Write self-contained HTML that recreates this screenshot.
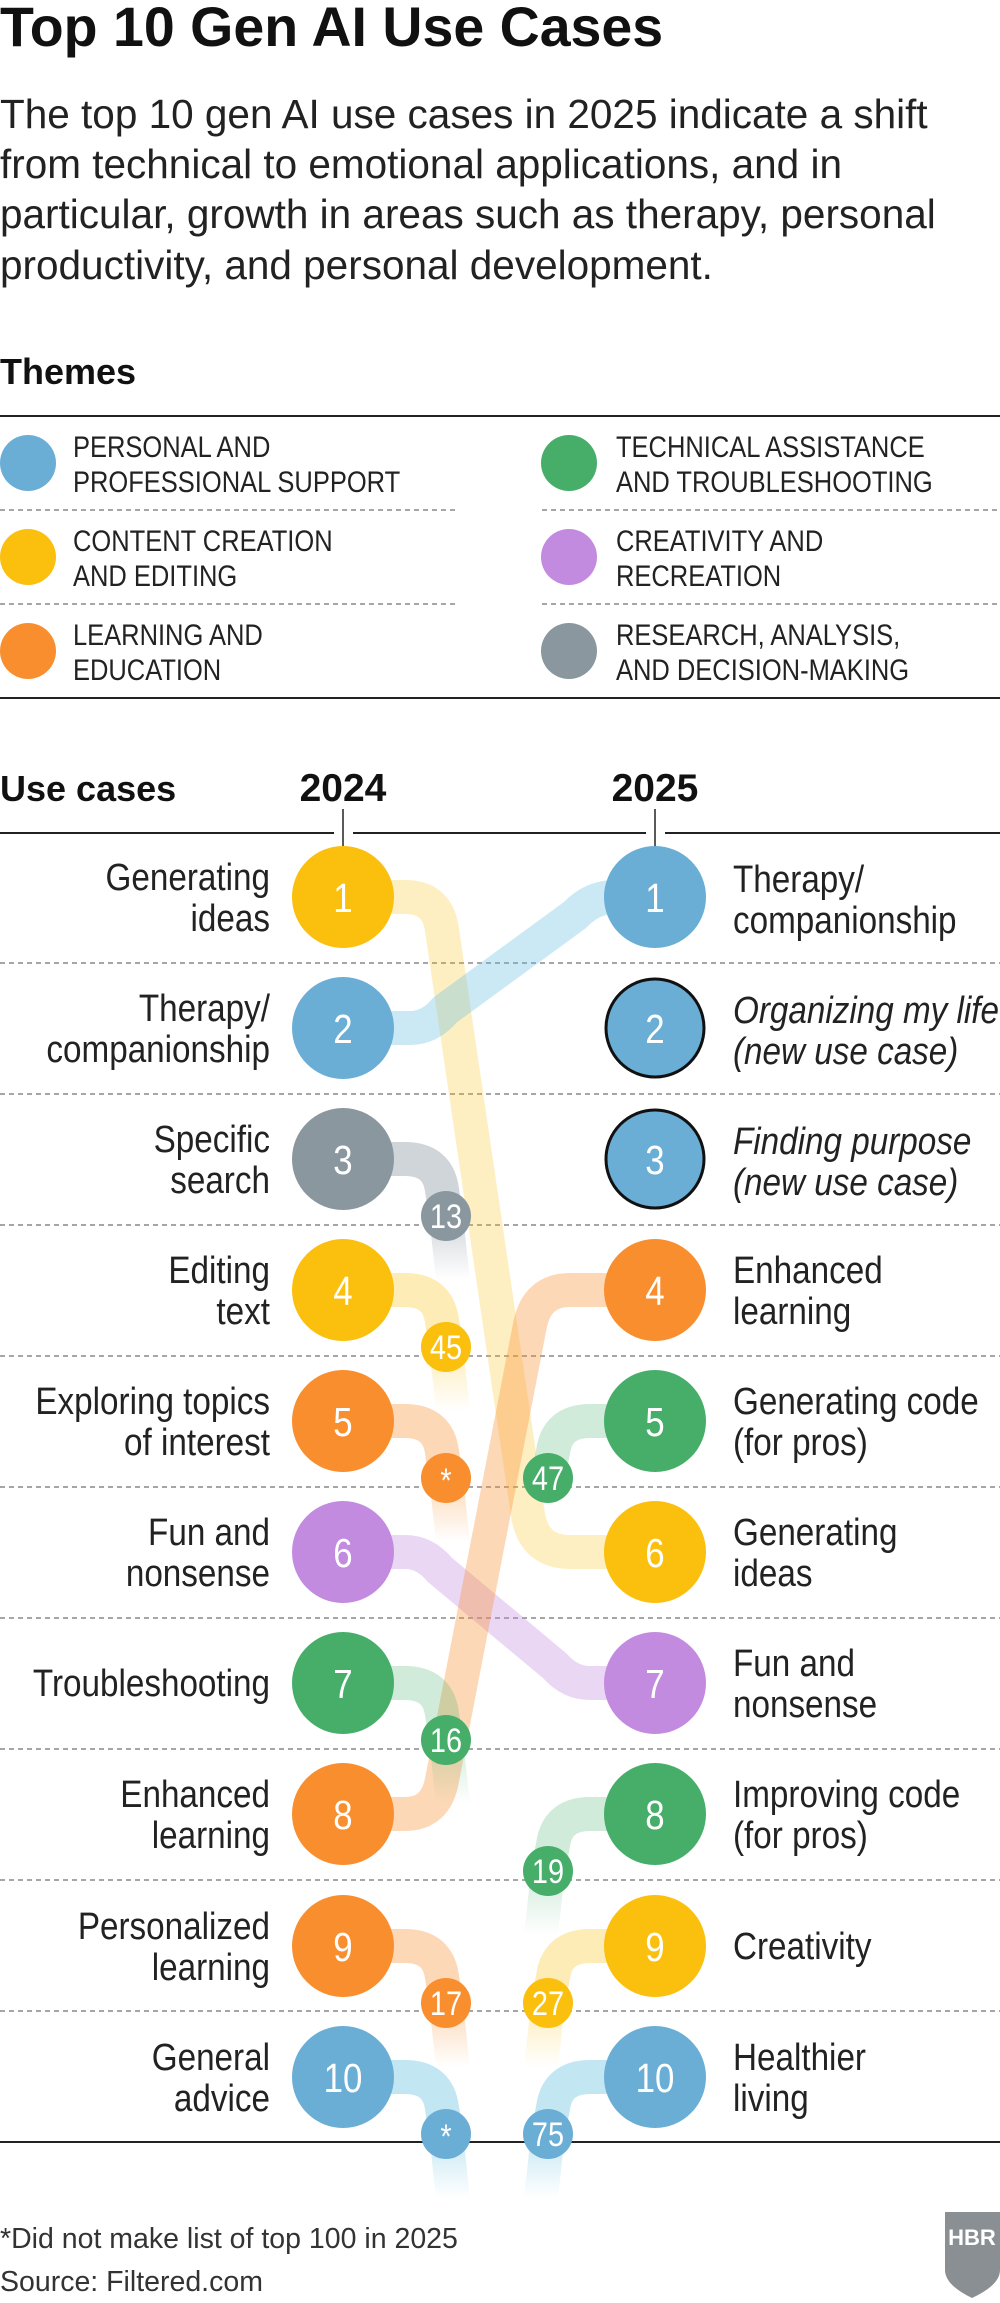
<!DOCTYPE html>
<html><head><meta charset="utf-8"><style>
html,body{margin:0;padding:0;background:#fff;}
svg{display:block;}
.s{font-family:"Liberation Sans",sans-serif;}
.n{font-family:"Liberation Sans",sans-serif;}
.cl{transform-box:fill-box;transform-origin:left center;transform:scaleX(0.875);}
.cr{transform-box:fill-box;transform-origin:right center;transform:scaleX(0.875);}
.cc{transform-box:fill-box;transform-origin:center center;transform:scaleX(0.85);}
.lg{transform-box:fill-box;transform-origin:left center;transform:scaleX(0.85);}
</style></head><body>
<svg width="1000" height="2303" viewBox="0 0 1000 2303" xmlns="http://www.w3.org/2000/svg">
<defs>
<linearGradient id="gGray" x1="0" y1="0" x2="0" y2="1"><stop offset="0" stop-color="#8A979F" stop-opacity="0.4"/><stop offset="1" stop-color="#8A979F" stop-opacity="0"/></linearGradient>
<linearGradient id="gYel" x1="0" y1="0" x2="0" y2="1"><stop offset="0" stop-color="#FBBF0E" stop-opacity="0.3"/><stop offset="1" stop-color="#FBBF0E" stop-opacity="0"/></linearGradient>
<linearGradient id="gOr" x1="0" y1="0" x2="0" y2="1"><stop offset="0" stop-color="#F98E2E" stop-opacity="0.35"/><stop offset="1" stop-color="#F98E2E" stop-opacity="0"/></linearGradient>
<linearGradient id="gGr" x1="0" y1="0" x2="0" y2="1"><stop offset="0" stop-color="#47AE6A" stop-opacity="0.25"/><stop offset="1" stop-color="#47AE6A" stop-opacity="0"/></linearGradient>
<linearGradient id="gBl" x1="0" y1="0" x2="0" y2="1"><stop offset="0" stop-color="#6AC0E0" stop-opacity="0.4"/><stop offset="1" stop-color="#6AC0E0" stop-opacity="0"/></linearGradient>
</defs>

<text x="0" y="46" class="s" font-size="55.5" font-weight="bold" fill="#111">Top 10 Gen AI Use Cases</text>
<g class="s" font-size="40.5" fill="#222">
<text x="0" y="128">The top 10 gen AI use cases in 2025 indicate a shift</text>
<text x="0" y="178">from technical to emotional applications, and in</text>
<text x="0" y="228">particular, growth in areas such as therapy, personal</text>
<text x="0" y="279">productivity, and personal development.</text>
</g>
<text x="0" y="384" class="s" font-size="36" font-weight="bold" fill="#111">Themes</text>
<line x1="0" y1="416" x2="1000" y2="416" stroke="#222" stroke-width="2"/>
<g stroke="#888" stroke-width="1.5" stroke-dasharray="5,4">
<line x1="0" y1="510" x2="457" y2="510"/><line x1="0" y1="604" x2="457" y2="604"/>
<line x1="542" y1="510" x2="1000" y2="510"/><line x1="542" y1="604" x2="1000" y2="604"/>
</g>
<line x1="0" y1="698" x2="1000" y2="698" stroke="#222" stroke-width="2"/>
<circle cx="28" cy="463" r="28" fill="#6AAED6"/>
<circle cx="28" cy="557" r="28" fill="#FBBF0E"/>
<circle cx="28" cy="651" r="28" fill="#F98E2E"/>
<circle cx="569" cy="463" r="28" fill="#47AE6A"/>
<circle cx="569" cy="557" r="28" fill="#C38BDF"/>
<circle cx="569" cy="651" r="28" fill="#8A979F"/>
<g class="n" font-size="30" fill="#222">
<text class="lg" x="73" y="457">PERSONAL AND</text><text class="lg" x="73" y="492">PROFESSIONAL SUPPORT</text>
<text class="lg" x="73" y="551">CONTENT CREATION</text><text class="lg" x="73" y="586">AND EDITING</text>
<text class="lg" x="73" y="645">LEARNING AND</text><text class="lg" x="73" y="680">EDUCATION</text>
<text class="lg" x="616" y="457">TECHNICAL ASSISTANCE</text><text class="lg" x="616" y="492">AND TROUBLESHOOTING</text>
<text class="lg" x="616" y="551">CREATIVITY AND</text><text class="lg" x="616" y="586">RECREATION</text>
<text class="lg" x="616" y="645">RESEARCH, ANALYSIS,</text><text class="lg" x="616" y="680">AND DECISION-MAKING</text>
</g>

<text x="0" y="801" class="s" font-size="36" font-weight="bold" fill="#111">Use cases</text>
<text x="343" y="801" class="s" font-size="39" font-weight="bold" fill="#111" text-anchor="middle">2024</text>
<text x="655" y="801" class="s" font-size="39" font-weight="bold" fill="#111" text-anchor="middle">2025</text>
<g stroke="#222" stroke-width="2">
<line x1="0" y1="833" x2="334" y2="833"/><line x1="353" y1="833" x2="646" y2="833"/><line x1="665" y1="833" x2="1000" y2="833"/>
<line x1="343" y1="809" x2="343" y2="850" stroke-width="1.5"/><line x1="655" y1="809" x2="655" y2="850" stroke-width="1.5"/>
</g>
<g stroke="#888" stroke-width="1.5" stroke-dasharray="5,4">
<line x1="0" y1="963" x2="1000" y2="963"/><line x1="0" y1="1094" x2="1000" y2="1094"/>
<line x1="0" y1="1225" x2="1000" y2="1225"/><line x1="0" y1="1356" x2="1000" y2="1356"/>
<line x1="0" y1="1487" x2="1000" y2="1487"/><line x1="0" y1="1618" x2="1000" y2="1618"/>
<line x1="0" y1="1749" x2="1000" y2="1749"/><line x1="0" y1="1880" x2="1000" y2="1880"/>
<line x1="0" y1="2011" x2="1000" y2="2011"/>
</g>
<line x1="0" y1="2142" x2="1000" y2="2142" stroke="#222" stroke-width="2"/>

<g fill="none" stroke-width="34" stroke-linejoin="round">
<path d="M343,897 H405 Q438,897 442,930 L528,1515 Q534,1552 570,1552 H655" stroke="#FBBF0E" stroke-opacity="0.25"/>
<path d="M343,1028 H410 Q430,1028 445,1010 L575,915 Q592,897 615,897 H655" stroke="#6AC0E0" stroke-opacity="0.35"/>
<path d="M343,1552 H405 Q425,1552 440,1570 L555,1666 Q570,1683 590,1683 H655" stroke="#C38BDF" stroke-opacity="0.35"/>
<path d="M343,1814 H405 Q436,1814 442,1780 L530,1325 Q537,1290 570,1290 H655" stroke="#F98E2E" stroke-opacity="0.35"/>
<path d="M343,1159 H405 Q438,1159 442,1190 L446,1216" stroke="#8A979F" stroke-opacity="0.4"/>
<path d="M343,1290 H405 Q438,1290 442,1321 L446,1347" stroke="#FBBF0E" stroke-opacity="0.3"/>
<path d="M343,1421 H405 Q438,1421 442,1452 L446,1478" stroke="#F98E2E" stroke-opacity="0.35"/>
<path d="M343,1683 H405 Q438,1683 442,1714 L446,1740" stroke="#47AE6A" stroke-opacity="0.25"/>
<path d="M343,1946 H405 Q438,1946 442,1977 L446,2003" stroke="#F98E2E" stroke-opacity="0.35"/>
<path d="M343,2077 H405 Q438,2077 442,2108 L446,2134" stroke="#6AC0E0" stroke-opacity="0.4"/>
<path d="M655,1421 H590 Q557,1421 553,1452 L548,1478" stroke="#47AE6A" stroke-opacity="0.25"/>
<path d="M655,1814 H590 Q557,1814 553,1845 L548,1871" stroke="#47AE6A" stroke-opacity="0.25"/>
<path d="M655,1946 H590 Q557,1946 553,1977 L548,2003" stroke="#FBBF0E" stroke-opacity="0.3"/>
<path d="M655,2077 H590 Q557,2077 553,2108 L548,2134" stroke="#6AC0E0" stroke-opacity="0.4"/>
</g>
<g stroke="none">
<polygon points="429,1216 463,1216 470,1280 436,1280" fill="url(#gGray)"/>
<polygon points="429,1347 463,1347 470,1411 436,1411" fill="url(#gYel)"/>
<polygon points="429,1478 463,1478 470,1542 436,1542" fill="url(#gOr)"/>
<polygon points="429,1740 463,1740 470,1804 436,1804" fill="url(#gGr)"/>
<polygon points="429,2003 463,2003 470,2067 436,2067" fill="url(#gOr)"/>
<polygon points="429,2134 463,2134 470,2198 436,2198" fill="url(#gBl)"/>
<polygon points="531,1871 565,1871 558,1935 524,1935" fill="url(#gGr)"/>
<polygon points="531,2003 565,2003 558,2067 524,2067" fill="url(#gYel)"/>
<polygon points="531,2134 565,2134 558,2198 524,2198" fill="url(#gBl)"/>
</g>

<g>
<circle cx="343" cy="897" r="51" fill="#FBBF0E"/>
<circle cx="343" cy="1028" r="51" fill="#6AAED6"/>
<circle cx="343" cy="1159" r="51" fill="#8A979F"/>
<circle cx="343" cy="1290" r="51" fill="#FBBF0E"/>
<circle cx="343" cy="1421" r="51" fill="#F98E2E"/>
<circle cx="343" cy="1552" r="51" fill="#C38BDF"/>
<circle cx="343" cy="1683" r="51" fill="#47AE6A"/>
<circle cx="343" cy="1814" r="51" fill="#F98E2E"/>
<circle cx="343" cy="1946" r="51" fill="#F98E2E"/>
<circle cx="343" cy="2077" r="51" fill="#6AAED6"/>
<circle cx="655" cy="897" r="51" fill="#6AAED6"/>
<circle cx="655" cy="1028" r="49" fill="#6AAED6" stroke="#111" stroke-width="3"/>
<circle cx="655" cy="1159" r="49" fill="#6AAED6" stroke="#111" stroke-width="3"/>
<circle cx="655" cy="1290" r="51" fill="#F98E2E"/>
<circle cx="655" cy="1421" r="51" fill="#47AE6A"/>
<circle cx="655" cy="1552" r="51" fill="#FBBF0E"/>
<circle cx="655" cy="1683" r="51" fill="#C38BDF"/>
<circle cx="655" cy="1814" r="51" fill="#47AE6A"/>
<circle cx="655" cy="1946" r="51" fill="#FBBF0E"/>
<circle cx="655" cy="2077" r="51" fill="#6AAED6"/>
</g>
<g class="n" font-size="41" fill="#fff" text-anchor="middle">
<text class="cc" x="343" y="912">1</text><text class="cc" x="343" y="1043">2</text><text class="cc" x="343" y="1174">3</text><text class="cc" x="343" y="1305">4</text><text class="cc" x="343" y="1436">5</text>
<text class="cc" x="343" y="1567">6</text><text class="cc" x="343" y="1698">7</text><text class="cc" x="343" y="1829">8</text><text class="cc" x="343" y="1961">9</text><text class="cc" x="343" y="2092">10</text>
<text class="cc" x="655" y="912">1</text><text class="cc" x="655" y="1043">2</text><text class="cc" x="655" y="1174">3</text><text class="cc" x="655" y="1305">4</text><text class="cc" x="655" y="1436">5</text>
<text class="cc" x="655" y="1567">6</text><text class="cc" x="655" y="1698">7</text><text class="cc" x="655" y="1829">8</text><text class="cc" x="655" y="1961">9</text><text class="cc" x="655" y="2092">10</text>
</g>

<circle cx="446" cy="1216" r="25" fill="#8A979F"/>
<circle cx="446" cy="1347" r="25" fill="#FBBF0E"/>
<circle cx="446" cy="1478" r="25" fill="#F98E2E"/>
<circle cx="446" cy="1740" r="25" fill="#47AE6A"/>
<circle cx="446" cy="2003" r="25" fill="#F98E2E"/>
<circle cx="446" cy="2134" r="25" fill="#6AAED6"/>
<circle cx="548" cy="1478" r="25" fill="#47AE6A"/>
<circle cx="548" cy="1871" r="25" fill="#47AE6A"/>
<circle cx="548" cy="2003" r="25" fill="#FBBF0E"/>
<circle cx="548" cy="2134" r="25" fill="#6AAED6"/>
<g class="n" font-size="34" fill="#fff" text-anchor="middle">
<text class="cc" x="446" y="1228">13</text><text class="cc" x="446" y="1359">45</text><text class="cc" x="446" y="1492">*</text><text class="cc" x="446" y="1752">16</text>
<text class="cc" x="446" y="2015">17</text><text class="cc" x="446" y="2148">*</text>
<text class="cc" x="548" y="1490">47</text><text class="cc" x="548" y="1883">19</text><text class="cc" x="548" y="2015">27</text><text class="cc" x="548" y="2146">75</text>
</g>

<g class="n" font-size="38" fill="#222" text-anchor="end">
<text class="cr" x="270" y="890">Generating</text><text class="cr" x="270" y="931">ideas</text>
<text class="cr" x="270" y="1021">Therapy/</text><text class="cr" x="270" y="1062">companionship</text>
<text class="cr" x="270" y="1152">Specific</text><text class="cr" x="270" y="1193">search</text>
<text class="cr" x="270" y="1283">Editing</text><text class="cr" x="270" y="1324">text</text>
<text class="cr" x="270" y="1414">Exploring topics</text><text class="cr" x="270" y="1455">of interest</text>
<text class="cr" x="270" y="1545">Fun and</text><text class="cr" x="270" y="1586">nonsense</text>
<text class="cr" x="270" y="1696">Troubleshooting</text>
<text class="cr" x="270" y="1807">Enhanced</text><text class="cr" x="270" y="1848">learning</text>
<text class="cr" x="270" y="1939">Personalized</text><text class="cr" x="270" y="1980">learning</text>
<text class="cr" x="270" y="2070">General</text><text class="cr" x="270" y="2111">advice</text>
</g>
<g class="n" font-size="38" fill="#222">
<text class="cl" x="733" y="892">Therapy/</text><text class="cl" x="733" y="933">companionship</text>
<text class="cl" x="733" y="1023" font-style="italic">Organizing my life</text><text class="cl" x="733" y="1064" font-style="italic">(new use case)</text>
<text class="cl" x="733" y="1154" font-style="italic">Finding purpose</text><text class="cl" x="733" y="1195" font-style="italic">(new use case)</text>
<text class="cl" x="733" y="1283">Enhanced</text><text class="cl" x="733" y="1324">learning</text>
<text class="cl" x="733" y="1414">Generating code</text><text class="cl" x="733" y="1455">(for pros)</text>
<text class="cl" x="733" y="1545">Generating</text><text class="cl" x="733" y="1586">ideas</text>
<text class="cl" x="733" y="1676">Fun and</text><text class="cl" x="733" y="1717">nonsense</text>
<text class="cl" x="733" y="1807">Improving code</text><text class="cl" x="733" y="1848">(for pros)</text>
<text class="cl" x="733" y="1959">Creativity</text>
<text class="cl" x="733" y="2070">Healthier</text><text class="cl" x="733" y="2111">living</text>
</g>

<g class="s" font-size="28.5" fill="#333">
<text x="0" y="2248">*Did not make list of top 100 in 2025</text>
<text x="0" y="2291">Source: Filtered.com</text>
</g>
<path d="M945,2212 H1000 V2270 Q1000,2285 972,2298 Q945,2285 945,2270 Z" fill="#8A8F93"/>
<text x="972" y="2245" class="n" font-size="22" font-weight="bold" fill="#fff" text-anchor="middle">HBR</text>
</svg>
</body></html>
